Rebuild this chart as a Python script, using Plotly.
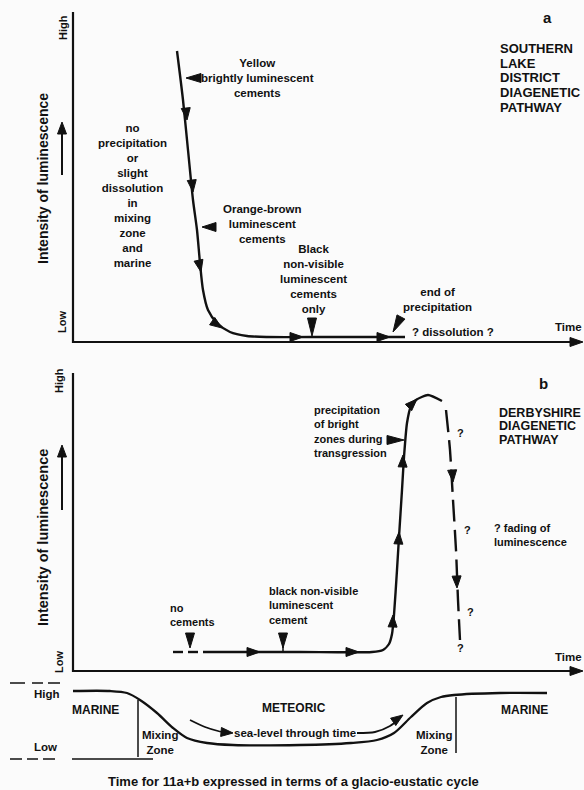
import math
import plotly.graph_objects as go

# ---------------- data (diagram coordinates, canvas units) ----------------
# Panel a: Southern Lake District luminescence pathway
curve_a_x = [177, 183, 188, 193, 197, 200, 203, 208, 217, 230, 247, 267, 330, 405]
curve_a_y = [51, 100, 150, 200, 230, 263, 290, 310, 323, 332, 336, 337, 337, 337]

# Panel b: Derbyshire luminescence pathway
curve_b_x = [203, 300, 372, 383, 389, 392, 394, 397, 399, 402, 404, 407, 411, 416, 428, 442]
curve_b_y = [652, 652, 652, 650, 644, 634, 615, 570, 537, 490, 457, 423, 406, 400, 395, 401]
lead_b_x = [[173, 183], [188, 198]]
lead_b_y = [[652, 652], [652, 652]]
fade_b_x = [446, 450, 453, 456, 458, 460]
fade_b_y = [410, 450, 500, 550, 600, 640]

# Panel c: sea level through a glacio-eustatic cycle
sea_x = [73, 110, 127, 140, 157, 173, 187, 207, 233, 300, 351, 377, 394, 411, 427, 441, 454, 500, 547]
sea_y = [691, 691, 693, 700, 713, 728, 738, 743, 745, 745, 743, 740, 733, 717, 703, 697, 695, 693, 693]
sea_arrow1_x = [190, 205, 218, 228]
sea_arrow1_y = [720, 727, 731, 733]
sea_arrow2_x = [357, 375, 390, 399]
sea_arrow2_y = [733, 732, 726, 719]

# arrowheads along curves: (tip x, tip y, direction deg [screen, y down], length, half width)
flow_heads = [
    (187, 120, 84, 12, 4.5), (193, 192, 84, 12, 4.5), (201, 272, 78, 12, 4.5),
    (222, 328, 35, 12, 4.5), (303, 337, 0, 13, 4.5), (390, 337, 0, 13, 4.5),
    (260, 652, 0, 13, 4.5), (359, 652, 0, 13, 4.5),
    (393, 615, -88, 12, 4.5), (399, 532, -87, 12, 4.5), (403, 455, -88, 12, 4.5),
    (417, 399, -45, 12, 4.5),
    (453, 482, 86, 12, 4.5), (457, 588, 88, 12, 4.5),
    (233, 733, 5, 12, 4.5), (403, 715, -35, 12, 4.5),
    (583, 342, 0, 13, 4.5), (583, 671, 0, 13, 4.5),
    (62, 122, -90, 12, 4.5), (62, 445, -90, 12, 4.5),
]
# pointer wedges next to labels
pointers = [
    (186, 78, 180, 15, 4.5), (202, 227, 180, 14, 4.5),
    (312, 336, 90, 18, 4.5), (393, 332, 118, 17, 4.5),
    (404, 440, 0, 17, 4.5), (190, 648, 90, 15, 4.5), (283, 648, 90, 15, 4.5),
]

FN = "Liberation Sans Narrow, Arial Narrow, Liberation Sans, sans-serif"
FB = "Liberation Sans, Arial, sans-serif"
INK = "#111111"

fig = go.Figure()


def line(xs, ys, w=2.0, dash=None, shape="linear", smooth=None):
    ln = dict(color=INK, width=w, shape=shape)
    if dash:
        ln["dash"] = dash
    if smooth is not None:
        ln["smoothing"] = smooth
    fig.add_trace(go.Scatter(x=xs, y=ys, mode="lines", line=ln, hoverinfo="skip"))


def tri(tx, ty, ang, L, W):
    a = math.radians(ang)
    dx, dy = math.cos(a), math.sin(a)
    bx, by = tx - L * dx, ty - L * dy
    px, py = -dy, dx
    return [tx, bx + W * px, bx - W * px, tx], [ty, by + W * py, by - W * py, ty]


# axes panel a
line([73, 73, 575], [12, 342, 342], 2.2)
# axes panel b
line([73, 73, 575], [373, 671, 671], 2.2)
# y direction arrows
line([62, 62], [175, 125], 2)
line([62, 62], [510, 448], 2)

# curves
line(curve_a_x, curve_a_y, 2.4, shape="spline", smooth=0.7)
line(curve_b_x, curve_b_y, 2.4, shape="spline", smooth=0.6)
for xs, ys in zip(lead_b_x, lead_b_y):
    line(xs, ys, 2.4)
line(fade_b_x, fade_b_y, 2.4, dash="22px,8px", shape="spline", smooth=0.6)
# pointer stems
line([283, 283], [640, 652], 1.5)

# panel c
line([10, 25], [683, 683], 1.5); line([32, 43], [683, 683], 1.5); line([48, 60], [683, 683], 1.5)
line([10, 22], [759, 759], 1.5); line([27, 38], [759, 759], 1.5); line([43, 55], [759, 759], 1.5)
line([72, 153], [759, 759], 1.5)
line(sea_x, sea_y, 2.3, shape="spline", smooth=0.8)
line([138, 138], [700, 757], 1.5)
line([456, 456], [697, 753], 1.5)
line(sea_arrow1_x, sea_arrow1_y, 1.8, shape="spline", smooth=0.8)
line(sea_arrow2_x, sea_arrow2_y, 1.8, shape="spline", smooth=0.8)

# arrowheads
tx, ty = [], []
for spec in flow_heads + pointers:
    xs, ys = tri(*spec)
    tx += xs + [None]
    ty += ys + [None]
fig.add_trace(go.Scatter(x=tx, y=ty, mode="lines", fill="toself", fillcolor=INK,
                         line=dict(color=INK, width=1), hoverinfo="skip"))

ann = []


def text(x, y, t, size=11.5, font=FN, anchor="center", angle=0):
    ann.append(dict(x=x, y=y, xref="x", yref="y", text=t, showarrow=False,
                    xanchor=anchor, yanchor="middle", textangle=angle,
                    align=anchor if anchor != "center" else "center",
                    font=dict(family=font, size=size, color=INK, weight="bold")))


# panel a texts
text(63, 28, "High", 11, angle=-90)
text(62, 322, "Low", 11, angle=-90)
text(43, 179, "Intensity of luminescence", 14, angle=-90)
text(132, 195, "no<br>precipitation<br>or<br>slight<br>dissolution<br>in<br>mixing<br>zone<br>and<br>marine", 11.5)
text(257, 78, "Yellow<br>brightly luminescent<br>cements", 11.5)
text(262, 224, "Orange-brown<br>luminescent<br>cements", 11.5)
text(313, 279, "Black<br>non-visible<br>luminescent<br>cements<br>only", 11.5)
text(437, 299, "end of<br>precipitation", 11.5)
text(453, 332, "? dissolution ?", 11.5)
text(568, 327, "Time", 11.5)
text(547, 17, "a", 15, FB)
for yy, t in zip([48, 63, 77, 92, 107], ["SOUTHERN", "LAKE", "DISTRICT", "DIAGENETIC", "PATHWAY"]):
    text(498, yy, t, 13, FB, anchor="left")

# panel b texts
text(59, 381, "High", 11, angle=-90)
text(59, 662, "Low", 11, angle=-90)
text(43, 538, "Intensity of luminescence", 14.5, angle=-90)
text(543, 383, "b", 15, FB)
for yy, t in zip([413, 426, 440], ["DERBYSHIRE", "DIAGENETIC", "PATHWAY"]):
    text(497, yy, t, 12.5, FB, anchor="left")
text(312, 431, "precipitation<br>of bright<br>zones during<br>transgression", 11, anchor="left")
text(492, 535, "? fading of<br>luminescence", 11, anchor="left")
text(168, 615, "no<br>cements", 11, anchor="left")
text(267, 605, "black non-visible<br>luminescent<br>cement", 11, anchor="left")
for qx, qy in [(460, 433), (467, 530), (470, 612), (460, 648)]:
    text(qx, qy, "?", 11)
text(568, 657, "Time", 11.5)

# panel c texts
text(47, 694, "High", 11.5)
text(45, 747, "Low", 11.5)
text(95, 710, "MARINE", 12)
text(524, 710, "MARINE", 12)
text(294, 708, "METEORIC", 12)
text(160, 742, "Mixing<br>Zone", 11.5)
text(434, 742, "Mixing<br>Zone", 11.5)
text(295, 733, "sea-level through time", 11.5)
text(293, 781, "Time for 11a+b expressed in terms of a glacio-eustatic cycle", 13, FB)

fig.update_layout(
    width=584, height=790, margin=dict(l=0, r=0, t=0, b=0),
    paper_bgcolor="#fbfbfb", plot_bgcolor="#fbfbfb", showlegend=False,
    xaxis=dict(range=[0, 584], visible=False, fixedrange=True),
    yaxis=dict(range=[790, 0], visible=False, fixedrange=True),
    annotations=ann,
)
fig.write_html(
    "out.html",
    config={"displayModeBar": False},
    post_script="document.body.style.margin='0';document.body.style.overflow='hidden';"
                "document.documentElement.style.overflow='hidden';",
)
